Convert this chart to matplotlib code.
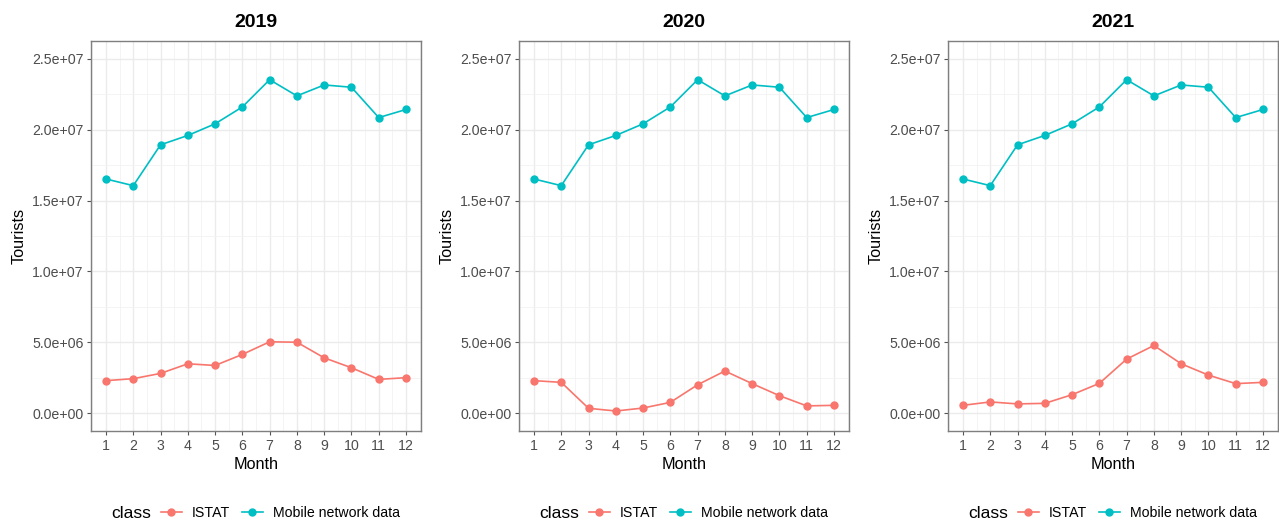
import matplotlib
matplotlib.use("Agg")
from matplotlib import pyplot as plt
from matplotlib.lines import Line2D
from matplotlib.ticker import FuncFormatter, MultipleLocator

plt.rcParams["font.family"] = ["Liberation Sans", "DejaVu Sans"]

months = list(range(1, 13))
years = ["2019", "2020", "2021"]

# mobile network data, same curve in every panel
mobile = [16.52e6, 16.05e6, 18.93e6, 19.59e6, 20.41e6, 21.60e6,
          23.52e6, 22.38e6, 23.15e6, 22.99e6, 20.85e6, 21.42e6]

istat_2019 = [2.30e6, 2.44e6, 2.81e6, 3.49e6, 3.37e6, 4.15e6,
              5.04e6, 5.01e6, 3.91e6, 3.21e6, 2.39e6, 2.51e6]
istat_2020 = [2.30e6, 2.18e6, 0.35e6, 0.16e6, 0.37e6, 0.77e6,
              2.01e6, 2.98e6, 2.09e6, 1.24e6, 0.52e6, 0.56e6]
istat_2021 = [0.56e6, 0.80e6, 0.66e6, 0.70e6, 1.31e6, 2.11e6,
              3.82e6, 4.78e6, 3.49e6, 2.69e6, 2.09e6, 2.18e6]
istat = [istat_2019, istat_2020, istat_2021]

RED = "#F8766D"
CYAN = "#00BFC4"
W, H = 1279, 524


def sci(x, pos):
    return "{:.1e}".format(x)


fig = plt.figure(figsize=(W / 100, H / 100), dpi=100)

lefts = [91, 519, 948]
for i, year in enumerate(years):
    ax = fig.add_axes([lefts[i] / W, 1 - 431 / H, 330 / W, 390 / H])
    ax.plot(months, istat[i], color=RED, lw=1.2, marker="o", ms=5, zorder=3)
    ax.plot(months, mobile, color=CYAN, lw=1.2, marker="o", ms=5, zorder=3)

    ax.set_xlim(0.45, 12.55)
    ax.set_ylim(-1.25e6, 26.25e6)
    ax.set_xticks(months)
    ax.xaxis.set_minor_locator(MultipleLocator(0.5))
    ax.yaxis.set_major_locator(MultipleLocator(5e6))
    ax.yaxis.set_minor_locator(MultipleLocator(2.5e6))
    ax.yaxis.set_major_formatter(FuncFormatter(sci))

    ax.grid(which="major", color="#EBEBEB", lw=1.0, zorder=0)
    ax.grid(which="minor", color="#F2F2F2", lw=0.6, zorder=0)
    ax.set_axisbelow(True)
    ax.tick_params(which="minor", length=0)
    ax.tick_params(which="major", length=3, width=0.8, color="#555555",
                   labelcolor="#4D4D4D", labelsize=10.2, pad=2.5)
    for s in ax.spines.values():
        s.set_color("#7F7F7F")
        s.set_linewidth(1.0)

    ax.set_title(year, fontsize=14, fontweight="bold", pad=10)
    ax.set_xlabel("Month", fontsize=11.7, labelpad=3)
    ax.set_ylabel("Tourists", fontsize=11.7, labelpad=4)

    # legend under each panel: "class" title on the left, then the keys
    cx = lefts[i] + 165
    fig.text((cx - 145) / W, 1 - 513 / H, "class", fontsize=12.5,
             ha="left", va="center")
    handles = [Line2D([], [], color=RED, lw=1.2, marker="o", ms=5),
               Line2D([], [], color=CYAN, lw=1.2, marker="o", ms=5)]
    fig.legend(handles, ["ISTAT", "Mobile network data"], loc="center left",
               bbox_to_anchor=((cx - 95) / W, 1 - 513 / H), ncol=2,
               frameon=False, fontsize=10.2, handlelength=1.48,
               handletextpad=0.7, columnspacing=0.82, borderpad=0,
               borderaxespad=0)

fig.savefig("out.png", dpi=100)
